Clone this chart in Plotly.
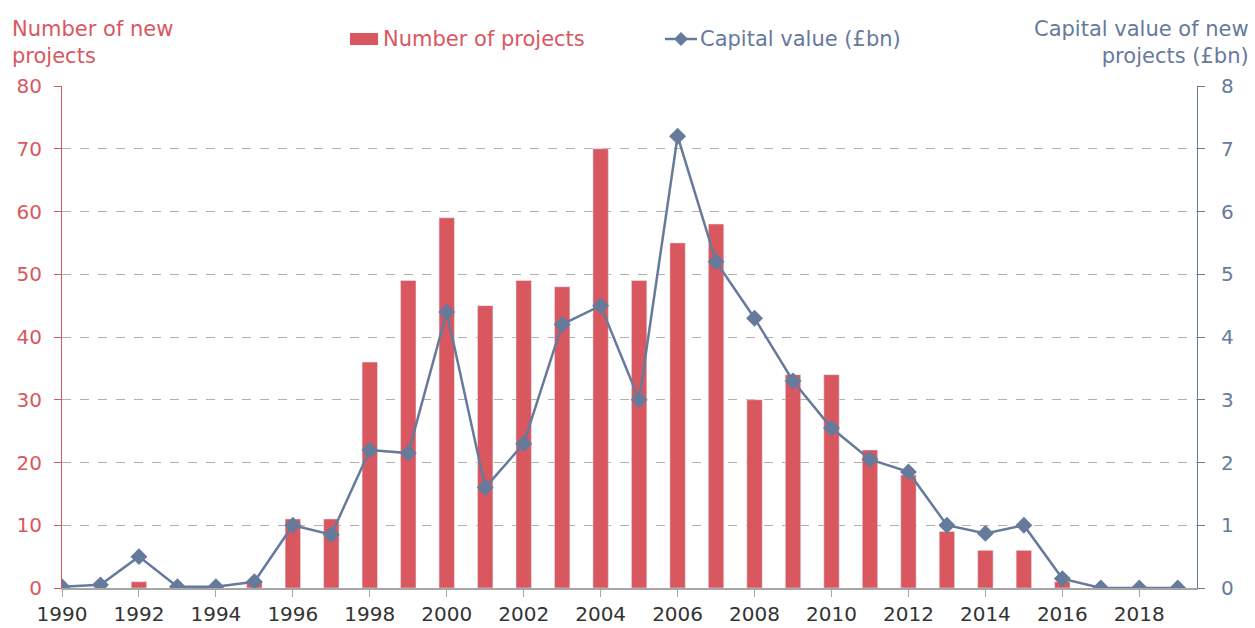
import plotly.graph_objects as go

years = list(range(1990, 2020))
projects = [0, 0, 1, 0, 0, 1, 11, 11, 36, 49, 59, 45, 49, 48, 70, 49, 55, 58, 30, 34,
            34, 22, 18, 9, 6, 6, 1, 0, 0, 0]
capital = [0.02, 0.05, 0.5, 0.02, 0.02, 0.1, 1.0, 0.85, 2.2, 2.15, 4.4, 1.6, 2.3, 4.2, 4.5,
           3.0, 7.2, 5.2, 4.3, 3.3, 2.55, 2.05, 1.85, 1.0, 0.87, 1.0, 0.15, 0, 0, 0]
left_ticks = list(range(0, 81, 10))
right_ticks = list(range(0, 9))
x_ticks = list(range(1990, 2020, 2))

RED = "#D9575F"
BLUE = "#667A9C"
FONT = "DejaVu Sans"

W, H = 1255, 628
ML, MR, MT, MB = 62, 58, 86, 40
PW, PH = W - ML - MR, H - MT - MB


def px(x):
    return (x - ML) / PW


def py(y):
    return (H - MB - y) / PH


fig = go.Figure()
fig.add_trace(go.Bar(x=years, y=projects, name="Number of projects", marker_color=RED,
                     width=0.4, yaxis="y"))
fig.add_trace(go.Scatter(x=years, y=capital, name="Capital value (£bn)", mode="lines+markers",
                         line=dict(color=BLUE, width=2.5),
                         marker=dict(symbol="diamond", size=13, color=BLUE), yaxis="y2"))

fig.update_layout(
    width=W, height=H,
    margin=dict(l=ML, r=MR, t=MT, b=MB, autoexpand=False),
    plot_bgcolor="white", paper_bgcolor="white",
    font=dict(family=FONT, size=20),
    showlegend=False,
    xaxis=dict(range=[1990, 2019.5], tickvals=x_ticks, ticks="outside", ticklen=7,
               tickcolor="#A6A6A6", showline=True, linecolor="#A6A6A6", linewidth=1.5,
               showgrid=False, zeroline=False, tickfont=dict(color="#333333", size=20),
               automargin=False),
    yaxis=dict(range=[0, 80], tickvals=left_ticks, showline=True, linecolor=RED,
               ticks="outside", ticklen=7, tickcolor=RED, tickfont=dict(color=RED, size=20),
               ticklabelstandoff=8,
               showgrid=True, gridcolor="#B0B0B0", griddash="dash", gridwidth=1,
               zeroline=False, automargin=False),
    yaxis2=dict(range=[0, 8], tickvals=right_ticks, overlaying="y", side="right",
                showline=True, linecolor=BLUE, ticks="outside", ticklen=7, tickcolor=BLUE,
                ticklabelstandoff=12,
                tickfont=dict(color=BLUE, size=20), showgrid=False, zeroline=False,
                automargin=False),
)

# Axis titles
fig.add_annotation(text="Number of new<br>projects", xref="paper", yref="paper",
                   x=px(10), y=py(70), xanchor="left", yanchor="bottom",
                   showarrow=False, align="left", font=dict(color=RED, size=21, family=FONT))
fig.add_annotation(text="Capital value of new<br>projects (£bn)", xref="paper", yref="paper",
                   x=px(1251), y=py(70), xanchor="right", yanchor="bottom",
                   showarrow=False, align="right", font=dict(color=BLUE, size=21, family=FONT))

# Custom legend
fig.add_shape(type="rect", xref="paper", yref="paper", x0=px(350), x1=px(378),
              y0=py(45), y1=py(33), fillcolor=RED, line=dict(width=0))
fig.add_annotation(text="Number of projects", xref="paper", yref="paper", x=px(381), y=py(39),
                   xanchor="left", yanchor="middle", showarrow=False,
                   font=dict(color=RED, size=21, family=FONT))
fig.add_shape(type="line", xref="paper", yref="paper", x0=px(665), x1=px(697),
              y0=py(39), y1=py(39), line=dict(color=BLUE, width=2.5))
cx, cy, d = 681, 39, 7
fig.add_shape(type="path", xref="paper", yref="paper",
              path=f"M {px(cx)},{py(cy - d)} L {px(cx + d)},{py(cy)} L {px(cx)},{py(cy + d)} L {px(cx - d)},{py(cy)} Z",
              fillcolor=BLUE, line=dict(width=0))
fig.add_annotation(text="Capital value (£bn)", xref="paper", yref="paper", x=px(698), y=py(39),
                   xanchor="left", yanchor="middle", showarrow=False,
                   font=dict(color=BLUE, size=21, family=FONT))

fig.write_html("out.html", config={"displayModeBar": False},
               post_script="document.body.style.margin='0px';document.body.style.overflow='hidden';")
